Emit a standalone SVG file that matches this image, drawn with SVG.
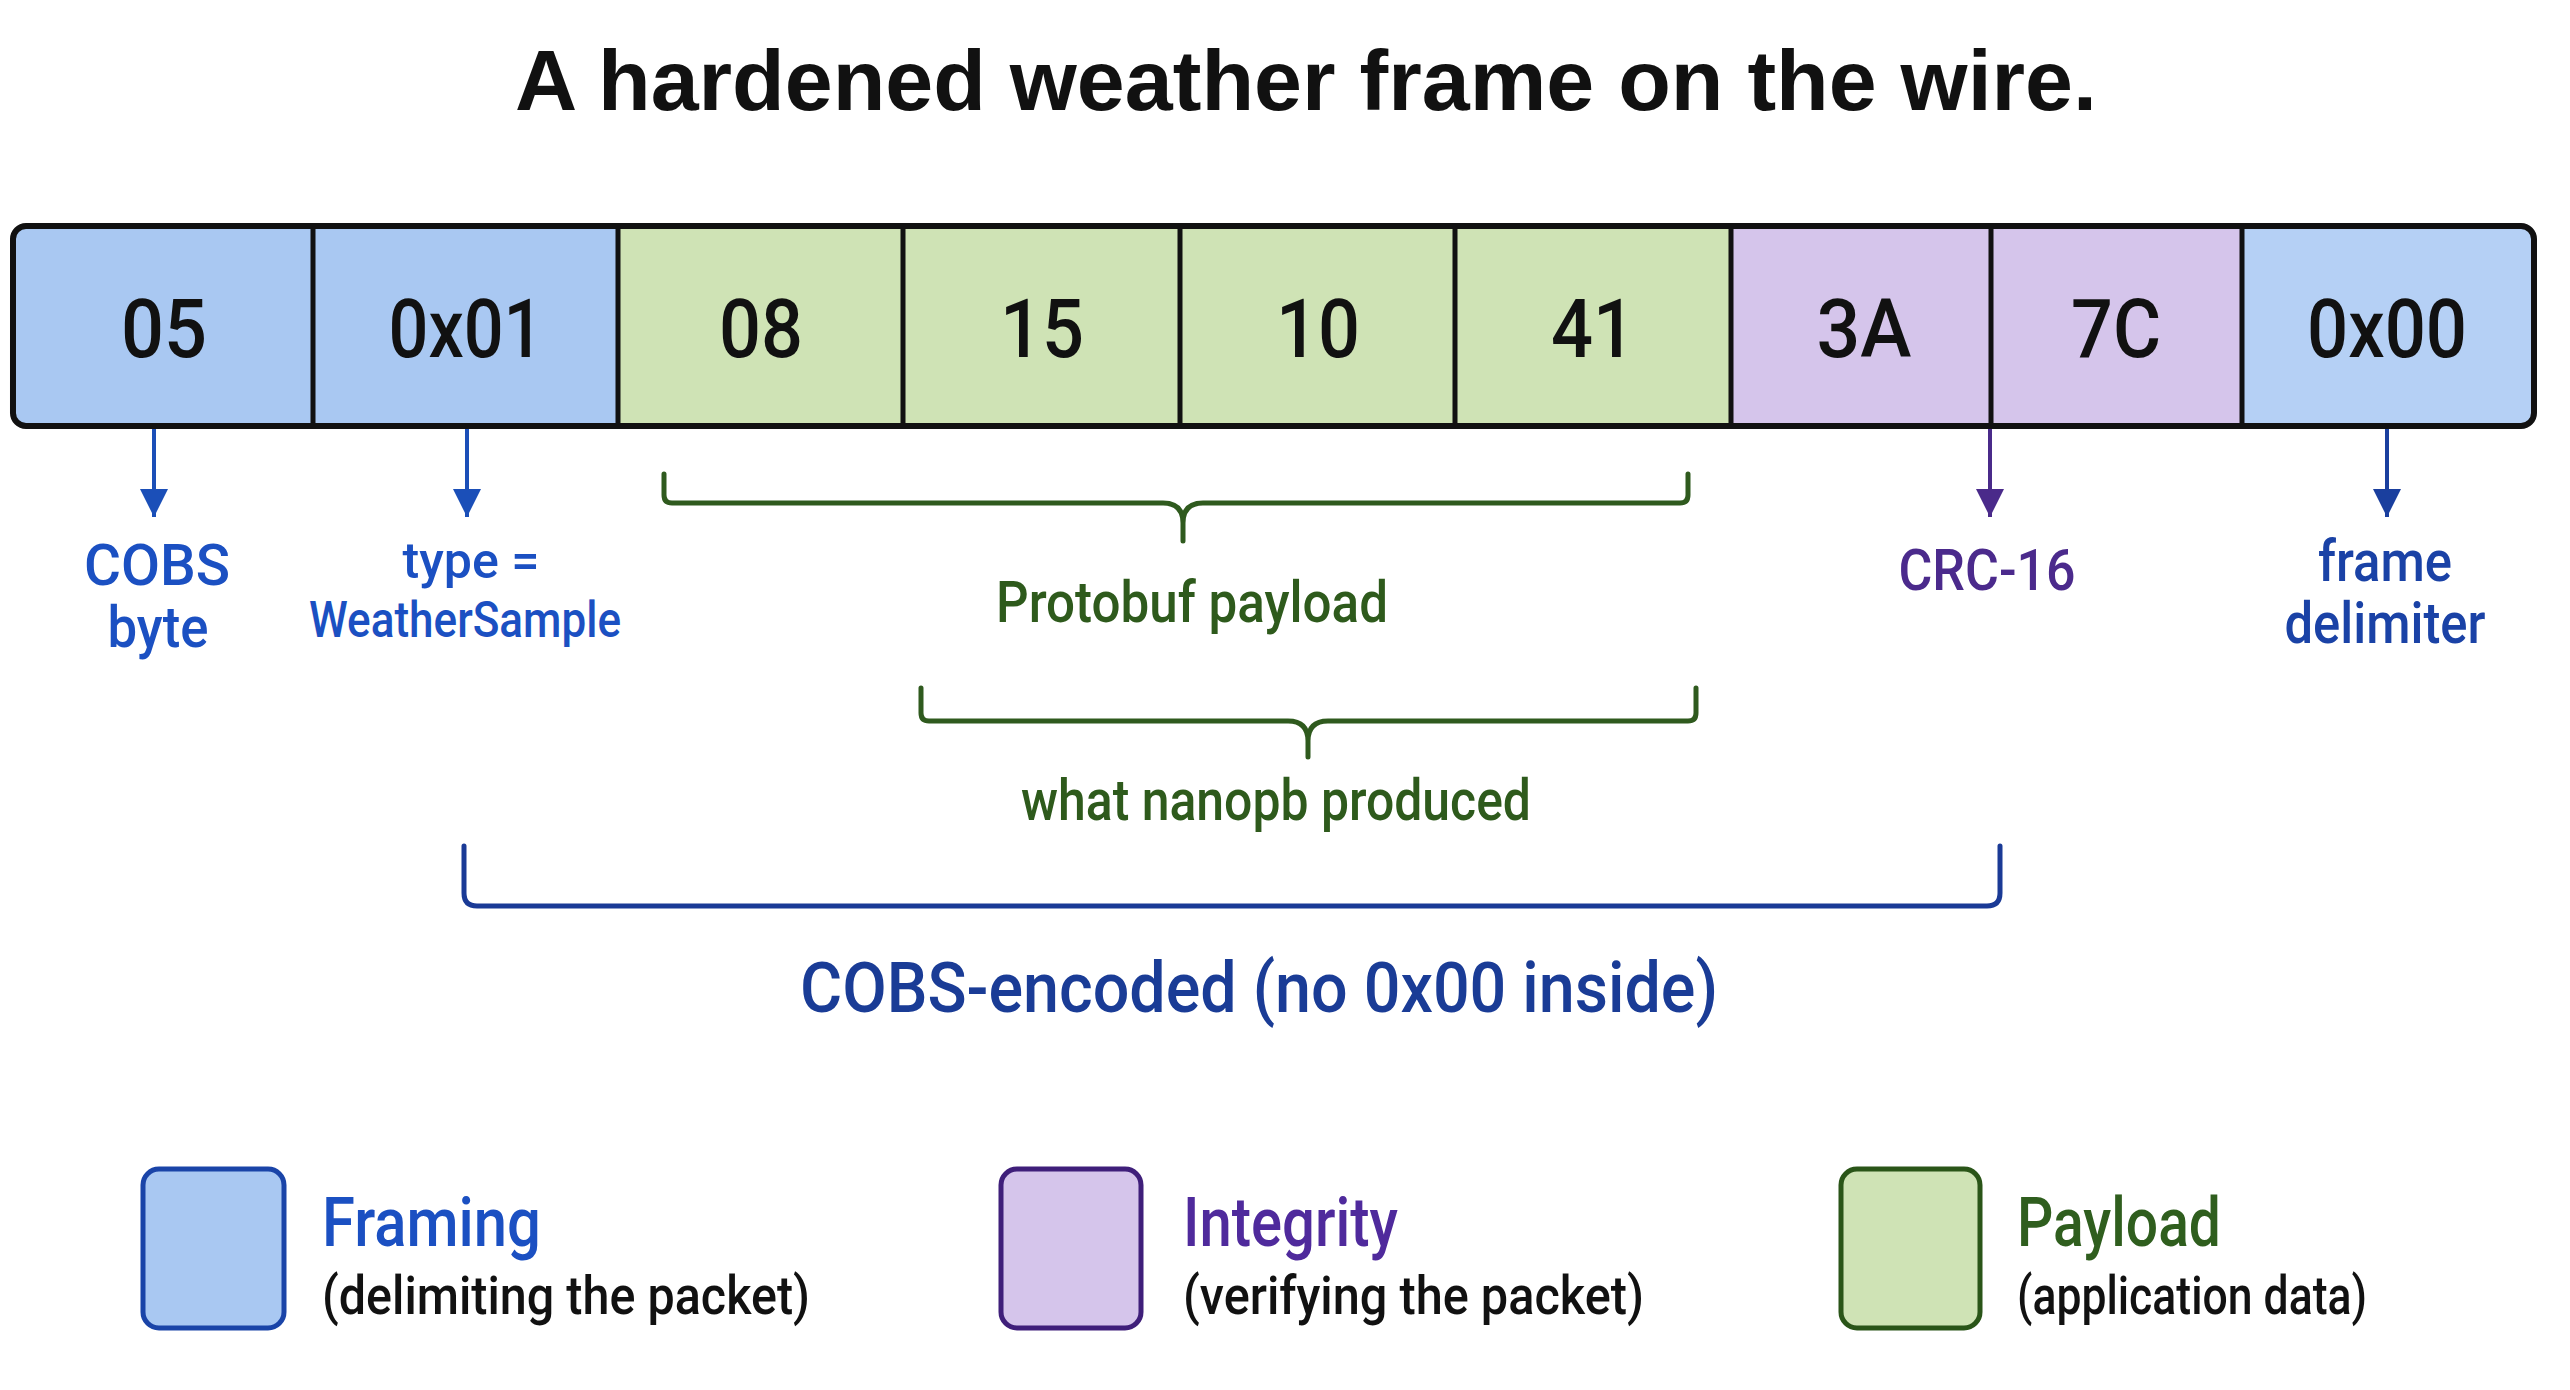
<svg xmlns="http://www.w3.org/2000/svg" width="2570" height="1390" viewBox="0 0 2570 1390">
<style>
text{font-family:Roboto,"Liberation Sans",Arial,sans-serif;font-weight:500;}
.title{font-family:"Liberation Sans",Arial,sans-serif;font-size:86px;font-weight:bold;fill:#111;}
.cell{font-size:82px;fill:#111;text-anchor:middle;}
.blue{fill:#a9c8f2;}
.blue2{fill:#b5d0f5;}
.green{fill:#cfe3b5;}
.purple{fill:#d5c5eb;}
.div{stroke:#111;stroke-width:5;}
.lbl{text-anchor:middle;}
.cb{fill:#1b50c2;}
.cd{fill:#1a42a6;}
.cp{fill:#4b2a8c;}
.cg{fill:#2e5a1c;}
.cn{fill:#1a3c96;}
.brace{fill:none;stroke-width:5;stroke-linecap:round;stroke-linejoin:round;}
.arrow{stroke-width:4;}
.sub{font-size:54px;fill:#111;}
</style>
<defs>
<clipPath id="frameClip"><rect x="13" y="226" width="2521" height="200" rx="13"/></clipPath>
<marker id="ahB" viewBox="0 0 10 10" refX="10" refY="5" markerWidth="8" markerHeight="7" markerUnits="strokeWidth" orient="auto"><path d="M0,0 L10,5 L0,10 Z" fill="#1b4fb8"/></marker>
<marker id="ahD" viewBox="0 0 10 10" refX="10" refY="5" markerWidth="8" markerHeight="7" markerUnits="strokeWidth" orient="auto"><path d="M0,0 L10,5 L0,10 Z" fill="#1a3f9e"/></marker>
<marker id="ahP" viewBox="0 0 10 10" refX="10" refY="5" markerWidth="8" markerHeight="7" markerUnits="strokeWidth" orient="auto"><path d="M0,0 L10,5 L0,10 Z" fill="#4a2a8a"/></marker>
</defs>
<rect x="0" y="0" width="2570" height="1390" fill="#ffffff"/>
<text class="title" x="515" y="110" textLength="1582" lengthAdjust="spacingAndGlyphs">A hardened weather frame on the wire.</text>

<g id="frame">
<g clip-path="url(#frameClip)">
<g id="cell-05"><rect class="blue" x="13" y="226" width="300" height="200"/><text class="cell" x="164" y="357" textLength="86" lengthAdjust="spacingAndGlyphs">05</text></g>
<g id="cell-0x01"><rect class="blue" x="313" y="226" width="305" height="200"/><text class="cell" x="466" y="357" textLength="155" lengthAdjust="spacingAndGlyphs">0x01</text></g>
<g id="cell-08"><rect class="green" x="618" y="226" width="285" height="200"/><text class="cell" x="761" y="357" textLength="84" lengthAdjust="spacingAndGlyphs">08</text></g>
<g id="cell-15"><rect class="green" x="903" y="226" width="277" height="200"/><text class="cell" x="1042" y="357" textLength="84" lengthAdjust="spacingAndGlyphs">15</text></g>
<g id="cell-10"><rect class="green" x="1180" y="226" width="275" height="200"/><text class="cell" x="1318" y="357" textLength="84" lengthAdjust="spacingAndGlyphs">10</text></g>
<g id="cell-41"><rect class="green" x="1455" y="226" width="276" height="200"/><text class="cell" x="1593" y="357" textLength="84" lengthAdjust="spacingAndGlyphs">41</text></g>
<g id="cell-3A"><rect class="purple" x="1731" y="226" width="260" height="200"/><text class="cell" x="1864" y="357" textLength="95" lengthAdjust="spacingAndGlyphs">3A</text></g>
<g id="cell-7C"><rect class="purple" x="1991" y="226" width="251" height="200"/><text class="cell" x="2116" y="357" textLength="90" lengthAdjust="spacingAndGlyphs">7C</text></g>
<g id="cell-0x00"><rect class="blue2" x="2242" y="226" width="292" height="200"/><text class="cell" x="2387" y="357" textLength="160" lengthAdjust="spacingAndGlyphs">0x00</text></g>
</g>
<line class="div" x1="313" y1="226" x2="313" y2="426"/>
<line class="div" x1="618" y1="226" x2="618" y2="426"/>
<line class="div" x1="903" y1="226" x2="903" y2="426"/>
<line class="div" x1="1180" y1="226" x2="1180" y2="426"/>
<line class="div" x1="1455" y1="226" x2="1455" y2="426"/>
<line class="div" x1="1731" y1="226" x2="1731" y2="426"/>
<line class="div" x1="1991" y1="226" x2="1991" y2="426"/>
<line class="div" x1="2242" y1="226" x2="2242" y2="426"/>
<rect x="13" y="226" width="2521" height="200" rx="13" fill="none" stroke="#111" stroke-width="6"/>
</g>

<g id="connectors">
<line class="arrow" x1="154" y1="429" x2="154" y2="517" stroke="#1b4fb8" marker-end="url(#ahB)"/>
<line class="arrow" x1="467" y1="429" x2="467" y2="517" stroke="#1b4fb8" marker-end="url(#ahB)"/>
<line class="arrow" x1="1990" y1="429" x2="1990" y2="517" stroke="#4a2a8a" marker-end="url(#ahP)"/>
<line class="arrow" x1="2387" y1="429" x2="2387" y2="517" stroke="#1a3f9e" marker-end="url(#ahD)"/>
<path class="brace" stroke="#2f5a1e" d="M664,474 V495 Q664,503 672,503 H1163 Q1183,503 1183,523 V541 M1183,523 Q1183,503 1203,503 H1680 Q1688,503 1688,495 V474"/>
<path class="brace" stroke="#2f5a1e" d="M921,688 V713 Q921,721 929,721 H1288 Q1308,721 1308,741 V757 M1308,741 Q1308,721 1328,721 H1688 Q1696,721 1696,713 V688"/>
<path class="brace" stroke="#1a3a96" d="M464,846 V893 Q464,906 477,906 H1987 Q2000,906 2000,893 V846"/>
</g>

<g id="labels">
<g id="lbl-cobs-byte" class="cb">
<text class="lbl" x="157" y="585" font-size="58" textLength="146" lengthAdjust="spacingAndGlyphs">COBS</text>
<text class="lbl" x="158" y="647" font-size="58" textLength="101" lengthAdjust="spacingAndGlyphs">byte</text>
</g>
<g id="lbl-type" class="cb">
<text class="lbl" x="471" y="578" font-size="50" textLength="137" lengthAdjust="spacingAndGlyphs">type =</text>
<text class="lbl" x="465" y="637" font-size="50" textLength="312" lengthAdjust="spacingAndGlyphs">WeatherSample</text>
</g>
<g id="lbl-crc" class="cp">
<text class="lbl" x="1987" y="590" font-size="58" textLength="177" lengthAdjust="spacingAndGlyphs">CRC-16</text>
</g>
<g id="lbl-delim" class="cd">
<text class="lbl" x="2385" y="581" font-size="58" textLength="134" lengthAdjust="spacingAndGlyphs">frame</text>
<text class="lbl" x="2385" y="643" font-size="58" textLength="201" lengthAdjust="spacingAndGlyphs">delimiter</text>
</g>
<text id="lbl-protobuf" class="lbl cg" x="1192" y="622" font-size="58" textLength="392" lengthAdjust="spacingAndGlyphs">Protobuf payload</text>
<text id="lbl-nanopb" class="lbl cg" x="1276" y="820" font-size="58" textLength="510" lengthAdjust="spacingAndGlyphs">what nanopb produced</text>
<text id="lbl-cobs-enc" class="lbl cn" x="1259" y="1012" font-size="70" textLength="918" lengthAdjust="spacingAndGlyphs">COBS-encoded (no 0x00 inside)</text>
</g>

<g id="legend-framing">
<rect x="143" y="1169" width="141" height="159" rx="16" fill="#a9c8f2" stroke="#1a44a8" stroke-width="5"/>
<text x="322" y="1246" font-size="68" fill="#1b50c2" textLength="219" lengthAdjust="spacingAndGlyphs">Framing</text>
<text class="sub" x="322" y="1314" textLength="488" lengthAdjust="spacingAndGlyphs">(delimiting the packet)</text>
</g>
<g id="legend-integrity">
<rect x="1001" y="1169" width="140" height="159" rx="16" fill="#d5c5eb" stroke="#3f1f7a" stroke-width="5"/>
<text x="1183" y="1246" font-size="68" fill="#4f2a9c" textLength="215" lengthAdjust="spacingAndGlyphs">Integrity</text>
<text class="sub" x="1183" y="1314" textLength="461" lengthAdjust="spacingAndGlyphs">(verifying the packet)</text>
</g>
<g id="legend-payload">
<rect x="1841" y="1169" width="139" height="159" rx="16" fill="#cfe3b5" stroke="#2a5518" stroke-width="5"/>
<text x="2017" y="1246" font-size="68" fill="#2f5e1e" textLength="204" lengthAdjust="spacingAndGlyphs">Payload</text>
<text class="sub" x="2017" y="1314" textLength="350" lengthAdjust="spacingAndGlyphs">(application data)</text>
</g>
</svg>
